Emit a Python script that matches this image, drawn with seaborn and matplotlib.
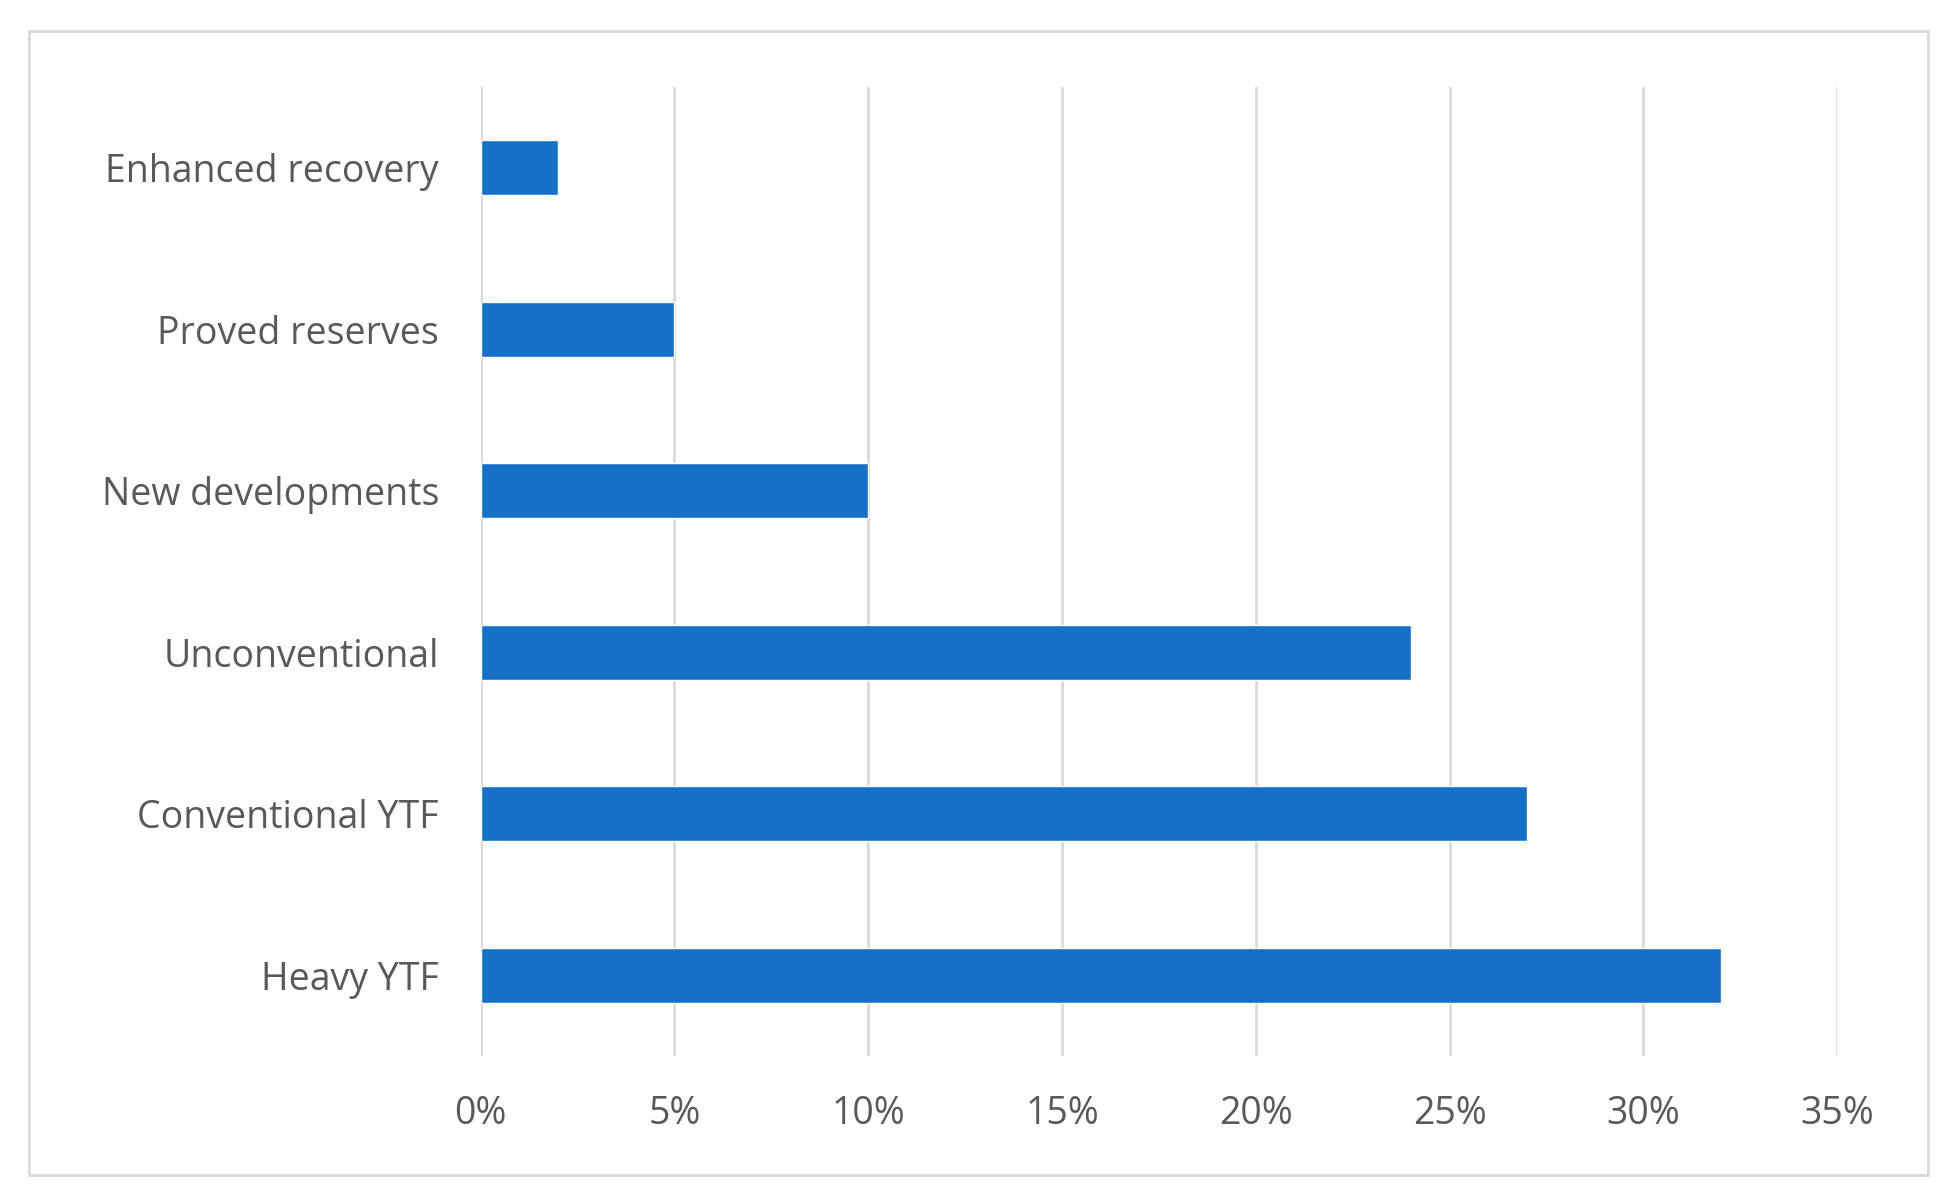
import matplotlib
matplotlib.use("Agg")
import matplotlib.pyplot as plt
import seaborn as sns
import pandas as pd
from matplotlib.patches import Rectangle

categories = ["Enhanced recovery", "Proved reserves", "New developments",
              "Unconventional", "Conventional YTF", "Heavy YTF"]
values = [2, 5, 10, 24, 27, 32]
xticks = [0, 5, 10, 15, 20, 25, 30, 35]

sns.set_style("white")
plt.rcParams['font.family'] = ['Open Sans', 'DejaVu Sans']

df = pd.DataFrame({"cat": categories, "val": values})
fig = plt.figure(figsize=(19.38, 11.88), dpi=100)
ax = fig.add_axes([0.248, 0.111, 0.70, 0.816])
sns.barplot(data=df, y="cat", x="val", color="#1570C8", width=0.34,
            saturation=1, ax=ax, zorder=3)
ax.set_xlim(0, 35)
ax.set_xticks(xticks)
ax.set_xticklabels([f"{t}%" for t in xticks])
ax.grid(axis="x", color="#D9D9D9", linewidth=2, zorder=0)
for s in ax.spines.values():
    s.set_visible(False)
ax.set_xlabel("")
ax.set_ylabel("")
ax.tick_params(axis="both", labelsize=27, labelcolor="#595959", length=0)
ax.tick_params(axis="x", pad=28)
ax.tick_params(axis="y", pad=30)
fig.patches.append(Rectangle((0.015, 0.011), 0.98, 0.963, transform=fig.transFigure,
                             fill=False, edgecolor="#D9D9D9", linewidth=2))
fig.savefig("out.png", dpi=100, facecolor="white")
